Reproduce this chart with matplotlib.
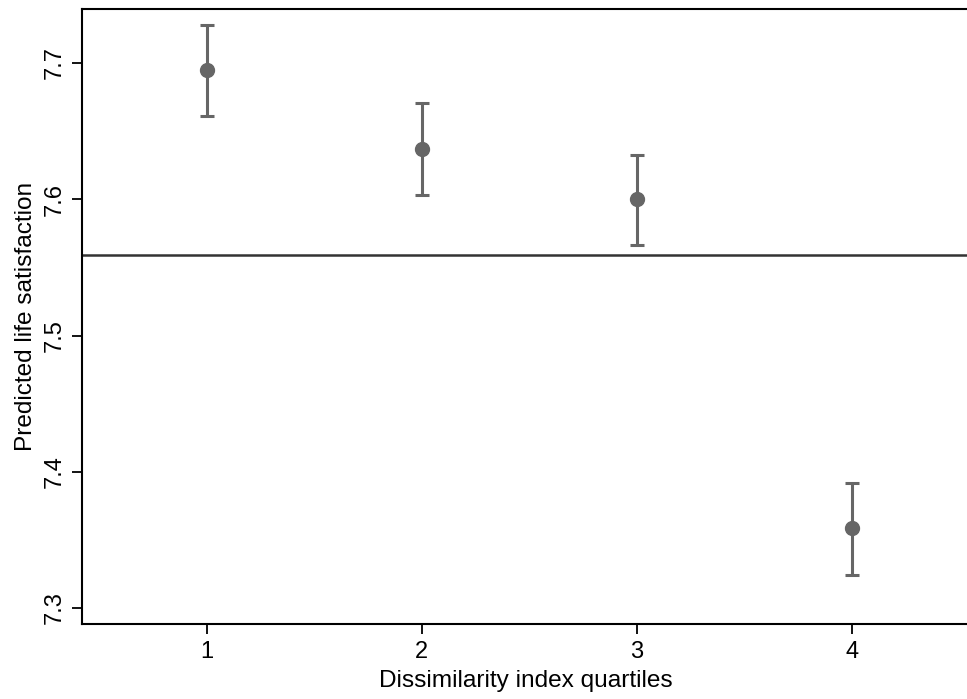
import matplotlib.pyplot as plt
import numpy as np

plt.rcParams['font.family'] = ['Liberation Sans', 'DejaVu Sans']

# predicted life satisfaction by dissimilarity quartile
quartiles = [1, 2, 3, 4]
pred = [7.6946, 7.6369, 7.6000, 7.3585]
ci_low = [7.6611, 7.6031, 7.5663, 7.3244]
ci_high = [7.7279, 7.6705, 7.6325, 7.3915]
ref_line = 7.5591

pred = np.array(pred)
yerr = [pred - np.array(ci_low), np.array(ci_high) - pred]

fig = plt.figure(figsize=(9.67, 6.99), dpi=100)
ax = fig.add_axes([0.0853, 0.1073, 0.9147 + 0.002, 0.8798])

ax.axhline(ref_line, color='#333333', lw=1.8, zorder=1)
ax.errorbar(quartiles, pred, yerr=yerr, fmt='o', color='#666666', ms=10,
            elinewidth=2.2, capsize=4.8, capthick=2.2, zorder=3)

ax.set_xlim(0.423, 4.543)
ax.set_ylim(7.2883, 7.7396)
ax.set_xticks(quartiles)
ax.set_yticks([7.3, 7.4, 7.5, 7.6, 7.7])
ax.set_yticklabels(['7.3', '7.4', '7.5', '7.6', '7.7'], rotation=90, va='center')
ax.tick_params(length=7, width=1.3, labelsize=17, pad=5)

ax.set_xlabel('Dissimilarity index quartiles', fontsize=17.6, labelpad=5)
ax.set_ylabel('Predicted life satisfaction', fontsize=17.6, labelpad=5)

ax.spines['right'].set_visible(False)
for s in ['left', 'bottom', 'top']:
    ax.spines[s].set_linewidth(1.5)

fig.savefig('out.png', dpi=100)
